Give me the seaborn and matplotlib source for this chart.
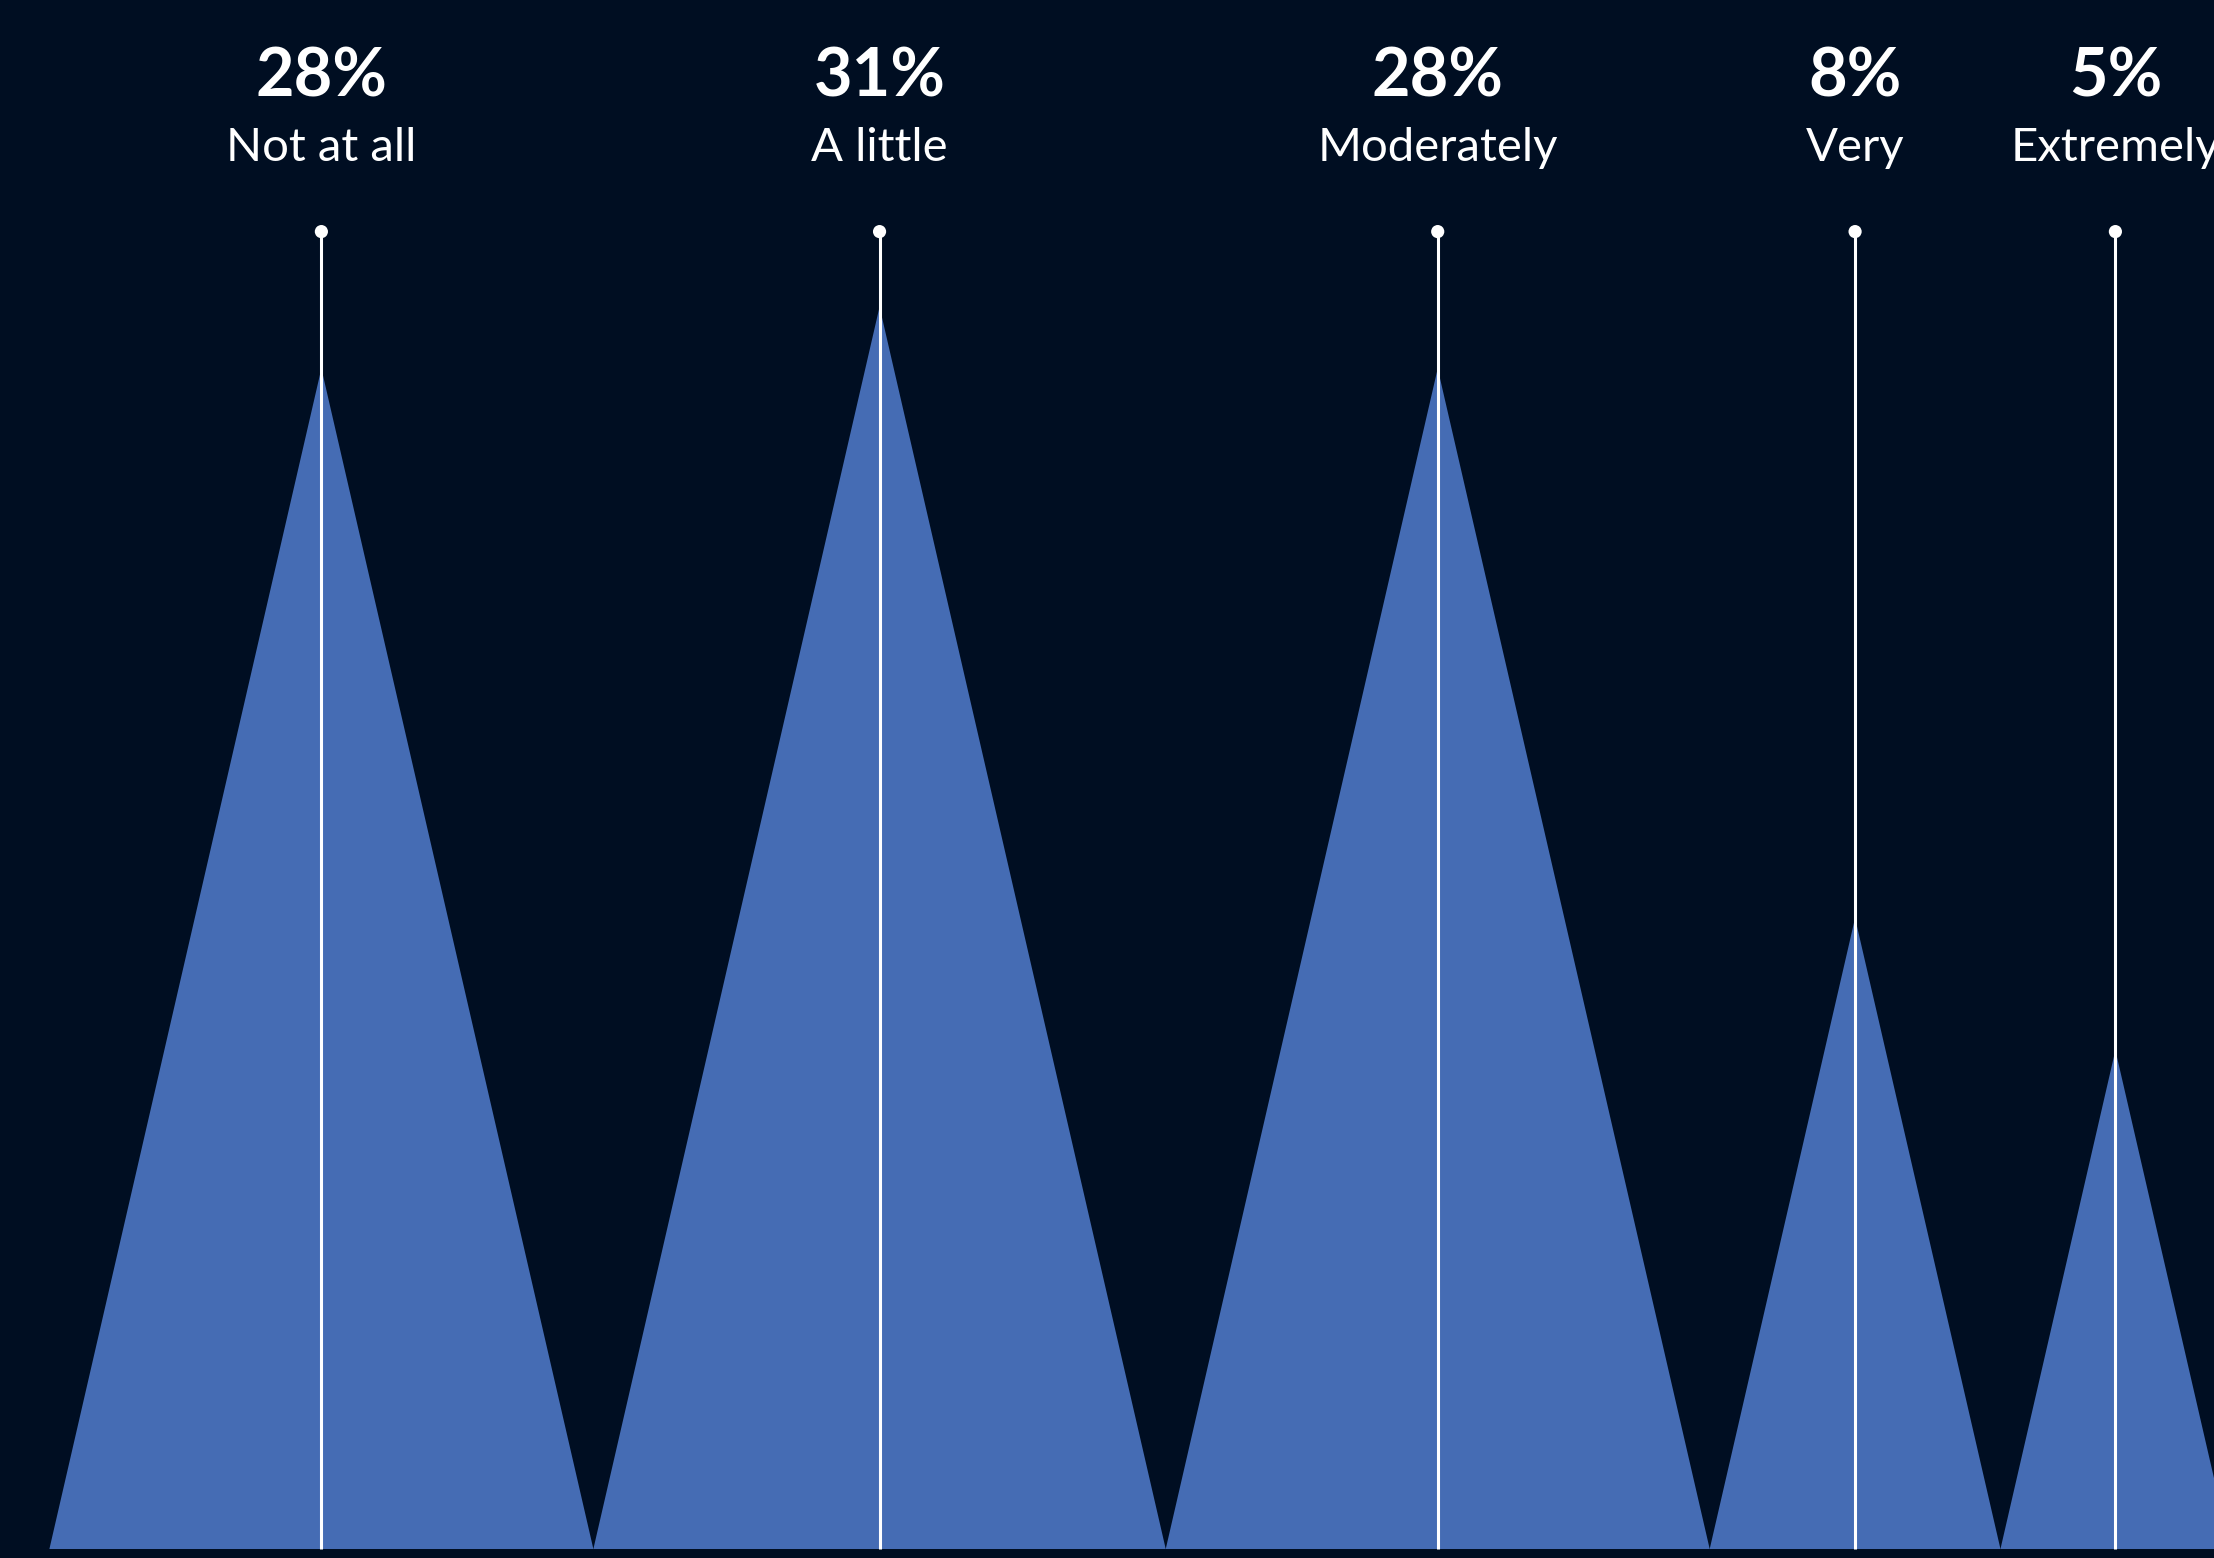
import numpy as np
import pandas as pd
import matplotlib
matplotlib.use("Agg")
import matplotlib.pyplot as plt
import seaborn as sns

categories = ["Not at all", "A little", "Moderately", "Very", "Extremely"]
values = [28, 31, 28, 8, 5]
pct_labels = ["28%", "31%", "28%", "8%", "5%"]

BG = "#000E22"
BLUE = "#456CB4"
W, H = 2214, 1558

sns.set_theme(style="white")
plt.rcParams["font.family"] = ["Lato", "DejaVu Sans"]

fig = plt.figure(figsize=(W / 100, H / 100), dpi=100, facecolor=BG)
ax = fig.add_axes([0, 0, 1, 1])
ax.set_facecolor(BG)

base_y = 1549
x0 = 49.4
h_scale = 223.1
w_scale = 102.8
dot_y = 231.6

df = pd.DataFrame({"label": categories, "val": values, "pct": pct_labels})
df["w"] = w_scale * np.sqrt(df["val"])
df["h"] = h_scale * np.sqrt(df["val"])
df["left"] = x0 + df["w"].cumsum() - df["w"]
df["cx"] = df["left"] + df["w"] / 2

for _, r in df.iterrows():
    ax.fill([r["left"], r["cx"], r["left"] + r["w"]],
            [base_y, base_y - r["h"], base_y],
            color=BLUE, lw=0, zorder=1)
    ax.plot([r["cx"], r["cx"]], [dot_y, base_y], color="white", lw=2.2,
            zorder=2, solid_capstyle="butt")
    ax.text(r["cx"], 96, r["pct"], ha="center", va="baseline", color="white",
            fontsize=48, fontweight="bold")
    ax.text(r["cx"], 161, r["label"], ha="center", va="baseline",
            color="white", fontsize=34)

df["dy"] = dot_y
sns.scatterplot(data=df, x="cx", y="dy", ax=ax, color="white", s=90,
                edgecolor="none", zorder=3, legend=False)
ax.set_xlim(0, W)
ax.set_ylim(H, 0)
ax.axis("off")

fig.savefig("out.png", dpi=100, facecolor=BG)
